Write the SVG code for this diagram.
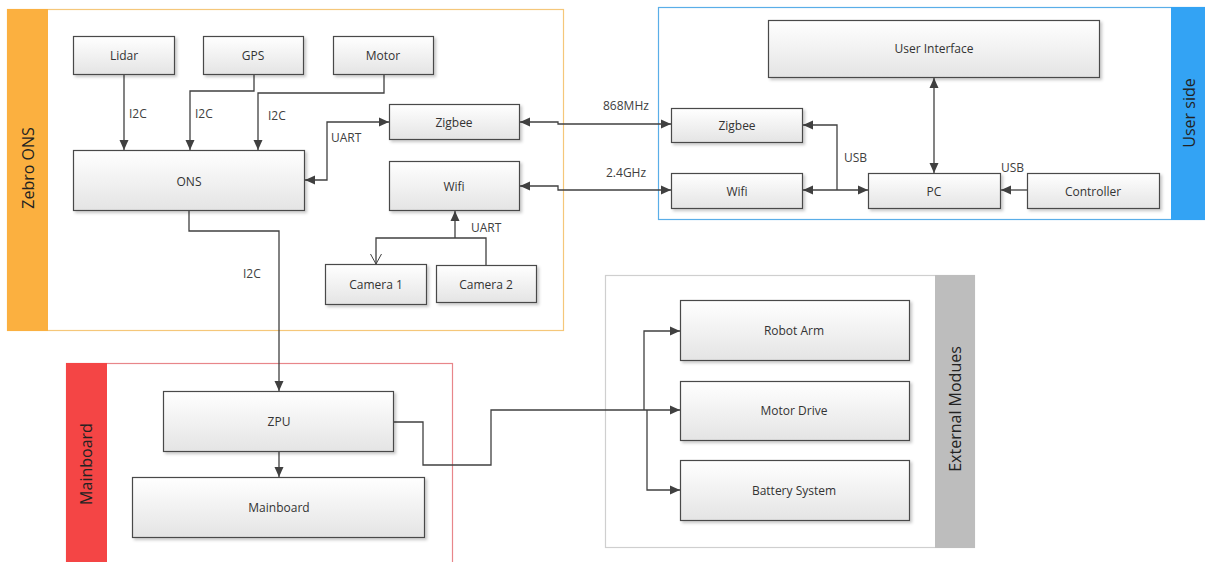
<svg xmlns="http://www.w3.org/2000/svg" width="1205" height="562" viewBox="0 0 1205 562">
<defs>
  <linearGradient id="boxGrad" x1="0" y1="0" x2="0" y2="1">
    <stop offset="0" stop-color="#ffffff"/>
    <stop offset="1" stop-color="#e4e4e4"/>
  </linearGradient>
  <filter id="shadow" x="-10%" y="-10%" width="130%" height="140%">
    <feDropShadow dx="2" dy="2" stdDeviation="1.5" flood-color="#000" flood-opacity="0.22"/>
  </filter>
  <marker id="arr" viewBox="0 0 10 10" refX="10" refY="5" markerWidth="10" markerHeight="10" markerUnits="userSpaceOnUse" orient="auto-start-reverse">
    <path d="M0,0.5 L10,5 L0,9.5 Z" fill="#404040"/>
  </marker>
  <marker id="open" viewBox="0 0 12 12" refX="11" refY="6" markerWidth="12" markerHeight="12" markerUnits="userSpaceOnUse" orient="auto">
    <path d="M1,0.5 L11,6 L1,11.5" fill="none" stroke="#404040" stroke-width="1"/>
  </marker>
</defs>
<style>
  .box { fill: url(#boxGrad); stroke: #4a4a4a; stroke-width: 1.2; filter: url(#shadow); }
  .lbl { font-family: "Open Sans", "Noto Sans", sans-serif; font-size: 12px; fill: #333; text-anchor: middle; dominant-baseline: central; }
  .clbl { font-family: "Open Sans", "Noto Sans", sans-serif; font-size: 12px; fill: #404040; dominant-baseline: central; }
  .side { font-family: "Open Sans", "Noto Sans", sans-serif; font-size: 16px; fill: #222; text-anchor: middle; dominant-baseline: central; }
  .conn { fill: none; stroke: #404040; stroke-width: 1.3; }
</style>
<rect x="0" y="0" width="1205" height="562" fill="#ffffff"/>

<!-- Containers -->
<g id="zebro-ons">
  <rect x="7.5" y="9.5" width="556" height="321" fill="#ffffff" stroke="#f5c77a" stroke-width="1.2"/>
  <rect x="7" y="9" width="41" height="322" fill="#fbb040"/>
  <text class="side" transform="translate(28,168) rotate(-90)">Zebro ONS</text>
</g>
<g id="user-side">
  <rect x="658.5" y="7.5" width="546" height="212" fill="#ffffff" stroke="#5aaee8" stroke-width="1.2"/>
  <rect x="1171" y="7" width="34" height="213" fill="#33a3f4"/>
  <text class="side" transform="translate(1189,113) rotate(-90)">User side</text>
</g>
<g id="mainboard-group">
  <rect x="66.5" y="363.5" width="386" height="210" fill="#ffffff" stroke="#e8868a" stroke-width="1.2"/>
  <rect x="66" y="363" width="41" height="199" fill="#f44545"/>
  <text class="side" transform="translate(86,464) rotate(-90)">Mainboard</text>
</g>
<g id="external-modules">
  <rect x="605.5" y="275.5" width="369" height="272" fill="#ffffff" stroke="#cfcfcf" stroke-width="1.2"/>
  <rect x="935" y="275" width="40" height="273" fill="#bdbdbd"/>
  <text class="side" transform="translate(955,409) rotate(-90)">External Modues</text>
</g>

<!-- Connectors -->
<g id="connectors">
  <path class="conn" d="M124,75 V150" marker-end="url(#arr)"/>
  <path class="conn" d="M254,75 V91 H190 V150" marker-end="url(#arr)"/>
  <path class="conn" d="M384,74 V93 H258 V150" marker-end="url(#arr)"/>
  <path class="conn" d="M305,180 H327 V122 H389" marker-start="url(#arr)" marker-end="url(#arr)"/>
  <path class="conn" d="M520,122 H558 V124 H671" marker-start="url(#arr)" marker-end="url(#arr)"/>
  <path class="conn" d="M520,186 H558 V190 H671" marker-start="url(#arr)" marker-end="url(#arr)"/>
  <path class="conn" d="M486,265 V238 H376 V264" marker-end="url(#open)"/>
  <path class="conn" d="M455,238 V211" marker-end="url(#arr)"/>
  <path class="conn" d="M189,211 V231 H279 V391" marker-end="url(#arr)"/>
  <path class="conn" d="M279,452 V477" marker-end="url(#arr)"/>
  <path class="conn" d="M934,78 V173" marker-start="url(#arr)" marker-end="url(#arr)"/>
  <path class="conn" d="M1027,190 H1001" marker-end="url(#arr)"/>
  <path class="conn" d="M837,190 V125 H803" marker-end="url(#arr)"/>
  <path class="conn" d="M803,190 H868" marker-start="url(#arr)" marker-end="url(#arr)"/>
  <path class="conn" d="M394,422 H423 V465 H491 V410 H680" marker-end="url(#arr)"/>
  <path class="conn" d="M644,410 V331 H680" marker-end="url(#arr)"/>
  <path class="conn" d="M647,410 V490 H680" marker-end="url(#arr)"/>
  <text class="clbl" x="129" y="113">I2C</text>
  <text class="clbl" x="195" y="113">I2C</text>
  <text class="clbl" x="268" y="115">I2C</text>
  <text class="clbl" x="331" y="137">UART</text>
  <text class="clbl" x="603" y="105">868MHz</text>
  <text class="clbl" x="606" y="172">2.4GHz</text>
  <text class="clbl" x="471" y="227">UART</text>
  <text class="clbl" x="243" y="273">I2C</text>
  <text class="clbl" x="844" y="157">USB</text>
  <text class="clbl" x="1001" y="167">USB</text>
</g>

<!-- Nodes -->
<g id="lidar"><rect class="box" x="73.5" y="36.5" width="101" height="38"/><text class="lbl" x="124" y="55">Lidar</text></g>
<g id="gps"><rect class="box" x="203.5" y="36.5" width="100" height="38"/><text class="lbl" x="253" y="55">GPS</text></g>
<g id="motor"><rect class="box" x="333.5" y="36.5" width="100" height="38"/><text class="lbl" x="383" y="55">Motor</text></g>
<g id="ons"><rect class="box" x="73.5" y="150.5" width="231" height="60"/><text class="lbl" x="189" y="181">ONS</text></g>
<g id="zigbee-ons"><rect class="box" x="389.5" y="104.5" width="130" height="35"/><text class="lbl" x="454" y="122">Zigbee</text></g>
<g id="wifi-ons"><rect class="box" x="389.5" y="161.5" width="130" height="49"/><text class="lbl" x="454" y="186">Wifi</text></g>
<g id="camera1"><rect class="box" x="325.5" y="264.5" width="101" height="40"/><text class="lbl" x="376" y="284">Camera 1</text></g>
<g id="camera2"><rect class="box" x="436.5" y="265.5" width="100" height="37"/><text class="lbl" x="486" y="284">Camera 2</text></g>
<g id="user-interface"><rect class="box" x="768.5" y="20.5" width="331" height="57"/><text class="lbl" x="934" y="48">User Interface</text></g>
<g id="zigbee-user"><rect class="box" x="671.5" y="108.5" width="131" height="34"/><text class="lbl" x="737" y="125">Zigbee</text></g>
<g id="wifi-user"><rect class="box" x="671.5" y="173.5" width="131" height="35"/><text class="lbl" x="737" y="191">Wifi</text></g>
<g id="pc"><rect class="box" x="868.5" y="173.5" width="132" height="35"/><text class="lbl" x="934" y="191">PC</text></g>
<g id="controller"><rect class="box" x="1027.5" y="173.5" width="132" height="35"/><text class="lbl" x="1093" y="191">Controller</text></g>
<g id="zpu"><rect class="box" x="163.5" y="391.5" width="230" height="60"/><text class="lbl" x="279" y="421">ZPU</text></g>
<g id="mainboard"><rect class="box" x="132.5" y="477.5" width="292" height="60"/><text class="lbl" x="279" y="507">Mainboard</text></g>
<g id="robot-arm"><rect class="box" x="680.5" y="300.5" width="229" height="60"/><text class="lbl" x="794" y="330">Robot Arm</text></g>
<g id="motor-drive"><rect class="box" x="680.5" y="381.5" width="229" height="59"/><text class="lbl" x="794" y="410">Motor Drive</text></g>
<g id="battery-system"><rect class="box" x="680.5" y="460.5" width="229" height="60"/><text class="lbl" x="794" y="490">Battery System</text></g>
</svg>
